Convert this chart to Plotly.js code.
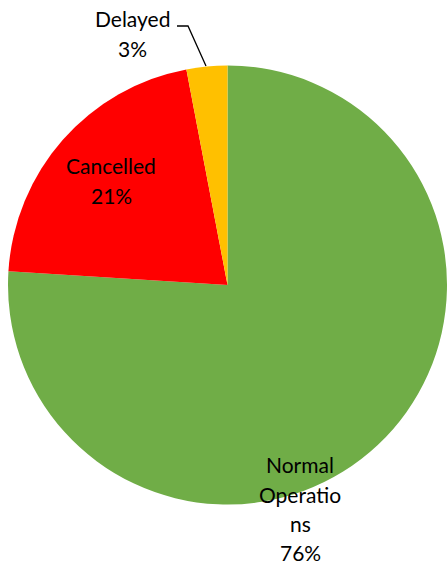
<!DOCTYPE html>
<html>
<head>
<meta charset="utf-8">
<script src="https://cdn.plot.ly/plotly-3.0.1.min.js"></script>
<style>html,body{margin:0;padding:0;background:#fff;}#chart{width:447px;height:565px;}</style>
</head>
<body>
<div id="chart"></div>
<script>
const categories = ["Normal Operations", "Cancelled", "Delayed"];
const values = [76, 21, 3];
const colors = ["#70AD47", "#FF0000", "#FFC000"];
// label lines as drawn in the reference (wrapped like the original)
const labelLines = [
  ["Normal", "Operatio", "ns", "76%"],
  ["Cancelled", "21%"],
  ["Delayed", "3%"]
];

const W = 447, H = 565;
const px = (x) => x / W;
const py = (y) => 1 - y / H;

// label anchor positions (pixel, top-left origin) for first line, and line step
const labelPos = [
  {x: 300, y: 465},
  {x: 111, y: 166},
  {x: 132, y: 19}
];
const lineStep = 29;

const annotations = [];
labelLines.forEach((lines, i) => {
  lines.forEach((t, j) => {
    annotations.push({
      text: t, showarrow: false, xref: 'paper', yref: 'paper',
      x: px(labelPos[i].x), y: py(labelPos[i].y + j * lineStep),
      xanchor: 'center', yanchor: 'middle',
      font: {family: 'Lato, "Open Sans", sans-serif', size: 21, color: '#000'}
    });
  });
});

const data = [{
  type: 'pie',
  labels: categories,
  values: values,
  marker: {colors: colors, line: {width: 0}},
  sort: false,
  direction: 'clockwise',
  rotation: 0,
  textinfo: 'none',
  hoverinfo: 'label+percent',
  showlegend: false,
  domain: {x: [px(8), 1], y: [py(505), py(65)]}
}];

const layout = {
  width: W, height: H,
  margin: {l: 0, r: 0, t: 0, b: 0},
  paper_bgcolor: '#fff',
  showlegend: false,
  annotations: annotations,
  shapes: [{
    type: 'path', xref: 'paper', yref: 'paper',
    path: `M ${px(177)} ${py(26)} L ${px(188)} ${py(26)} L ${px(206)} ${py(66)}`,
    line: {color: '#000', width: 1.3}
  }]
};

Plotly.newPlot('chart', data, layout, {displayModeBar: false, staticPlot: true});
</script>
</body>
</html>
